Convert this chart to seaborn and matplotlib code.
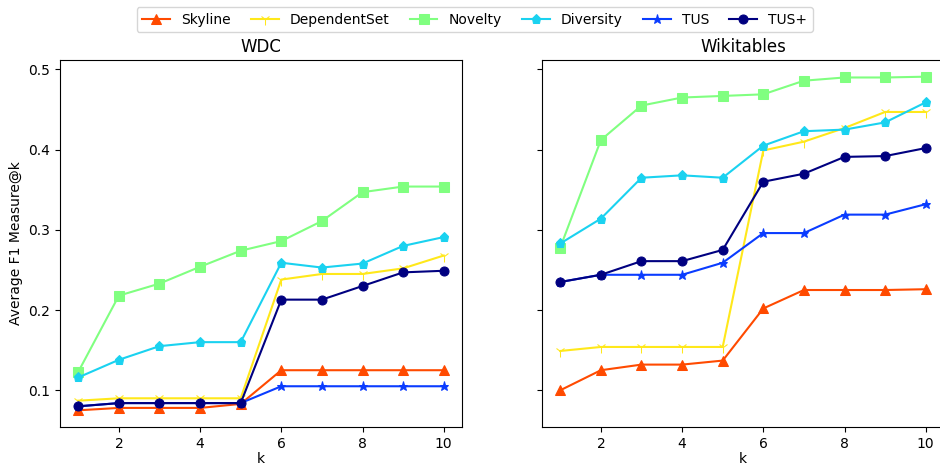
import matplotlib
matplotlib.use("Agg")
import matplotlib.pyplot as plt
import seaborn as sns
import pandas as pd

k = [1, 2, 3, 4, 5, 6, 7, 8, 9, 10]
methods = ["Skyline", "DependentSet", "Novelty", "Diversity", "TUS", "TUS+"]

wdc_skyline = [0.075, 0.078, 0.078, 0.078, 0.083, 0.125, 0.125, 0.125, 0.125, 0.125]
wdc_dependentset = [0.087, 0.090, 0.090, 0.090, 0.090, 0.238, 0.245, 0.245, 0.252, 0.268]
wdc_novelty = [0.123, 0.218, 0.233, 0.254, 0.274, 0.286, 0.311, 0.347, 0.354, 0.354]
wdc_diversity = [0.116, 0.138, 0.155, 0.160, 0.160, 0.259, 0.253, 0.258, 0.280, 0.291]
wdc_tus = [0.080, 0.084, 0.084, 0.084, 0.084, 0.105, 0.105, 0.105, 0.105, 0.105]
wdc_tusplus = [0.080, 0.084, 0.084, 0.084, 0.084, 0.213, 0.213, 0.230, 0.247, 0.249]

wiki_skyline = [0.100, 0.125, 0.132, 0.132, 0.137, 0.202, 0.225, 0.225, 0.225, 0.226]
wiki_dependentset = [0.149, 0.154, 0.154, 0.154, 0.154, 0.399, 0.410, 0.427, 0.447, 0.447]
wiki_novelty = [0.278, 0.412, 0.455, 0.465, 0.467, 0.469, 0.486, 0.490, 0.490, 0.491]
wiki_diversity = [0.283, 0.314, 0.365, 0.368, 0.365, 0.405, 0.423, 0.425, 0.434, 0.459]
wiki_tus = [0.235, 0.244, 0.244, 0.244, 0.259, 0.296, 0.296, 0.319, 0.319, 0.332]
wiki_tusplus = [0.235, 0.244, 0.261, 0.261, 0.275, 0.360, 0.370, 0.391, 0.392, 0.402]

panels = [
    ("WDC", [wdc_skyline, wdc_dependentset, wdc_novelty, wdc_diversity, wdc_tus, wdc_tusplus]),
    ("Wikitables", [wiki_skyline, wiki_dependentset, wiki_novelty, wiki_diversity, wiki_tus, wiki_tusplus]),
]

colors = ["#ff4a00", "#ffe81a", "#80ff80", "#1ad2f0", "#0a3cff", "#000080"]
markers = ["^", "1", "s", "p", "*", "o"]

W, H = 940, 465
fig = plt.figure(figsize=(9.4, 4.65), dpi=100)
ax0 = fig.add_axes([60 / W, (H - 427) / H, 402 / W, 367 / H])
ax1 = fig.add_axes([542 / W, (H - 427) / H, 402 / W, 367 / H], sharey=ax0)
axes = [ax0, ax1]

for ax, (title, series) in zip(axes, panels):
    for name, vals, c, m in zip(methods, series, colors, markers):
        df = pd.DataFrame({"k": k, "v": vals})
        sns.lineplot(data=df, x="k", y="v", ax=ax, color=c, marker=m,
                     markersize=6.5 if m != "1" else 8, markeredgecolor=c,
                     label=name, legend=False)
    ax.set_title(title, fontsize=12)
    ax.set_xlabel("k", labelpad=1)
    ax.set_ylabel("")
    ax.set_xticks([2, 4, 6, 8, 10])
    ax.set_yticks([0.1, 0.2, 0.3, 0.4, 0.5])

ax0.set_ylabel("Average F1 Measure@k")
plt.setp(ax1.get_yticklabels(), visible=False)

handles, labels = ax0.get_legend_handles_labels()
fig.legend(handles, labels, loc="upper center", ncol=6, bbox_to_anchor=(0.505, 1.0),
           fontsize=10, columnspacing=1.45)

fig.savefig("out.png", dpi=100)
